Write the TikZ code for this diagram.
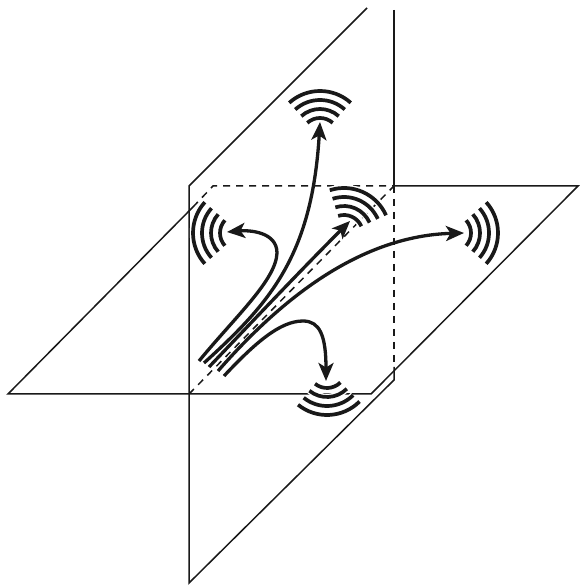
\documentclass[tikz,border=0pt]{standalone}
\usepackage{tikz}
\usetikzlibrary{arrows.meta, calc}
\tikzset{
    planeline/.style={line width=1.5pt, black!90},
    hiddenline/.style={line width=1.5pt, black!90, dash pattern=on 7pt off 6pt},
    waveline/.style={line width=3.7pt, black!90, preaction={draw, white, line width=6.5pt}},
    beamarrow/.style={line width=3.3pt, black!90, -{Stealth[length=18pt,width=15pt,inset=4.5pt]}},
}

\begin{document}
\begin{tikzpicture}[x=1pt, y=1pt]
                \useasboundingbox (0,0) rectangle (579,586);
                % horizontal plane
                \coordinate (hLeft) at (8,192);
                \coordinate (hFront) at (371,192);
                \coordinate (hRight) at (578,400);
                \coordinate (hBack) at (213,400);
                \coordinate (hBreak) at (193,379);
                % vertical plane
                \coordinate (vBottom) at (189,3);
                \coordinate (vTop) at (189,400);
                \coordinate (vUpper) at (367,578);
                \coordinate (vHigh) at (394,576);
                \coordinate (vCross) at (394,400);
                \coordinate (vBreak) at (394,219);
                \coordinate (vLow) at (394,206);
                \coordinate (axisEnd) at (189,192);
                \draw[planeline] (hBreak)--(hLeft)--(hFront)--(hRight)--(vCross);
                \draw[hiddenline] (hBreak)--(hBack)--(vCross);
                \draw[planeline] (vUpper)--(vTop)--(vBottom)--(vLow)--(vBreak);
                \draw[planeline] (vHigh)--(vCross);
                \draw[hiddenline] (vCross)--(vBreak);
                \draw[hiddenline] (axisEnd)--(vCross);
                % antennas: centre, direction
                \foreach \cx/\cy/\dir in {320/449/90, 239/353/180, 452/353/0, 344/352/66, 327/217/-87}{
                    \foreach \rad in {19,28,37,46}{
                        \draw[waveline] ($(\cx,\cy)+(\dir-42:\rad)$) arc[start angle=\dir-42, end angle=\dir+42, radius=\rad];
                    }
                }
                % beams
                \coordinate (beamA) at (199,225);
                \coordinate (beamB) at (204,223);
                \coordinate (beamC) at (209,219);
                \coordinate (beamD) at (218,215);
                \coordinate (beamE) at (224,210);
                \coordinate (tipLeft) at (227,354);
                \coordinate (tipTop) at (320,464);
                \coordinate (tipBack) at (350,365);
                \coordinate (tipRight) at (464,353);
                \coordinate (tipBottom) at (326,205);
                \draw[beamarrow] (beamA) .. controls (236,270) and (276,306) .. (277,333) .. controls (277,354) and (250,356) .. (tipLeft);
                \draw[beamarrow] (beamB) .. controls (270,283) and (312,330) .. (tipTop);
                \draw[beamarrow] (beamC) .. controls (250,262) and (300,315) .. (tipBack);
                \draw[beamarrow] (beamD) .. controls (275,280) and (355,350) .. (tipRight);
                \draw[beamarrow] (beamE) .. controls (255,243) and (280,265) .. (303,265) .. controls (320,265) and (326,250) .. (tipBottom);
            \end{tikzpicture}
\end{document}
